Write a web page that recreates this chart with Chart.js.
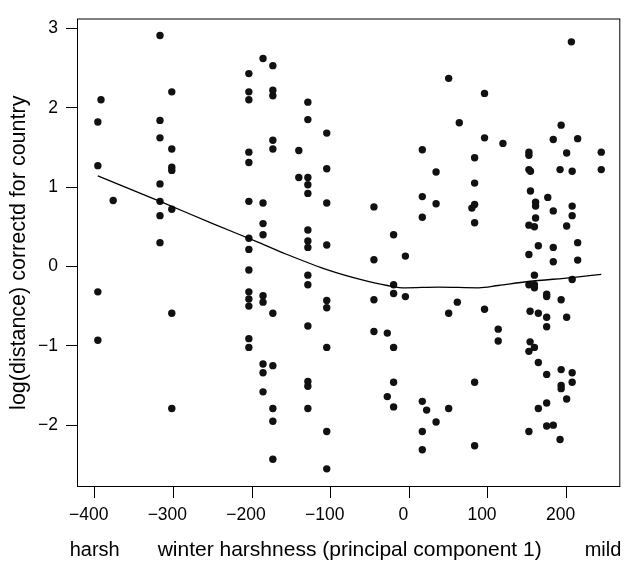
<!DOCTYPE html>
<html><head><meta charset="utf-8">
<script src="https://cdn.jsdelivr.net/npm/chart.js@4/dist/chart.umd.min.js"></script>
<style>html,body{margin:0;padding:0;background:#fff;}canvas{display:block;}</style>
</head><body>
<canvas id="c" width="624" height="562"></canvas>
<script>
// winter harshness (PC1) for each observation
const winterX = [
  -396,-396,-396,-396, -392, -376.5,
  -317,-317,-317,-317,-317,-317,-317,
  -302,-302,-302,-302,-302,-302,-302,
  -204,-204,-204,-204,-204,-204,-204,-204,-204,-204,-204,-204,-204,-204,
  -186,-186,-186,-186,-186,-186,-186,-186,-186,
  -173.5,-173.5,-173.5,-173.5,-173.5,-173.5,-173.5,-173.5,-173.5,-173.5,
  -140.5,-140.5,
  -129,-129,-129,-129,-129,-129,-129,-129,-129,-129,-129,-129,-129,-129,
  -105,-105,-105,-105,-105,-105,-105,-105,-105,
  -45,-45,-45,-45,
  -28,-28,
  -20,-20,-20,-20,-20,-20,
  -5,-5,
  16.5,16.5,16.5,16.5,16.5,16.5,
  22,
  34,34,34,
  50,50,50,
  61, 63.5, 79.5,
  83,83,83,83,83,83,
  95.6,95.6,95.6,
  113,113,
  119,
  152,152,152,152,152,152,152,152,
  153.5,153.5,
  154,154,
  159,159,159,159,159,
  160.5,160.5,160.5,
  164,164,164,164,
  174.6,174.6,174.6,174.6,174.6,174.6,174.6,
  176,
  183,183,183,183,183,
  191.6,191.6,
  193,193,193,193,193,
  200,200,200,200,
  206,
  207,207,207,207,207,207,
  214,214,214,
  244,244
];
// log(distance) corrected for country, paired with winterX
const logDist = [
  1.82,1.27,-0.32,-0.93, 2.10, 0.83,
  2.91,1.84,1.62,1.04,0.82,0.64,0.30,
  2.20,1.48,1.25,1.21,0.72,-0.59,-1.79,
  2.43,2.20,2.10,1.44,1.31,0.82,0.355,0.215,-0.045,-0.32,-0.41,-0.50,-0.91,-1.02,
  2.62,0.80,0.54,0.40,-0.37,-0.45,-1.23,-1.34,-1.58,
  2.53,2.22,2.15,1.59,1.48,-0.59,-1.25,-1.79,-1.95,-2.43,
  1.46,1.12,
  2.07,1.85,1.12,1.03,0.92,0.46,0.32,0.24,-0.11,-0.23,-0.75,-1.45,-1.51,-1.79,
  1.68,1.23,0.80,0.27,-0.43,-0.52,-1.02,-2.08,-2.55,
  0.75,0.085,-0.42,-0.82,
  -0.84,-1.64,
  0.40,-0.23,-0.34,-1.02,-1.46,-1.77,
  0.13,-0.38,
  1.47,0.88,0.62,-1.70,-2.08,-2.31,
  -1.81,
  1.19,0.79,-1.96,
  2.37,-0.59,-1.79,
  -0.45, 1.81, 0.735,
  1.37,1.05,0.78,0.55,-1.46,-2.26,
  2.18,1.62,-0.54,
  -0.79,-0.94,
  1.55,
  1.44,1.40,1.22,0.52,0.15,-0.23,-1.07,-2.08,
  -0.565,-0.95,
  1.20,0.95,
  0.50,-0.11,-0.23,-0.27,-1.02,
  0.81,0.76,0.61,
  0.26,-0.59,-1.21,-1.79,
  -0.35,-0.38,-0.64,-0.76,-1.36,-1.72,-2.01,
  0.87,
  1.60,0.70,0.24,0.06,-2.00,
  1.22,-2.18,
  1.78,-0.42,-1.30,-1.50,-1.54,
  1.43,0.51,-0.64,-1.67,
  2.83,
  1.20,0.76,0.64,-0.165,-1.34,-1.46,
  1.61,0.30,0.08,
  1.44,1.22
];
// smoothed (lowess) curve
const curveX = [-396, -317, -250, -191, -157, -102, -60, -28, -5, 37, 88, 113, 151, 207, 244];
const curveY = [1.14, 0.82, 0.54, 0.30, 0.157, -0.05, -0.17, -0.24, -0.27, -0.26, -0.27, -0.24, -0.19, -0.14, -0.10];

const xTicks = [-400, -300, -200, -100, 0, 100, 200];
const yTicks = [-2, -1, 0, 1, 2, 3];
const xTitle = 'winter harshness (principal component 1)';
const yTitle = 'log(distance) correctd for country';
const leftNote = 'harsh';
const rightNote = 'mild';

const fmt = v => (v < 0 ? '\u2212' + Math.abs(v) : String(v));
const FONT = '"Liberation Sans", Arial, Helvetica, sans-serif';

const framePlugin = {
  id: 'frame',
  afterDraw(chart) {
    const {ctx, chartArea: a} = chart;
    ctx.save();
    ctx.strokeStyle = '#000';
    ctx.lineWidth = 1;
    ctx.strokeRect(a.left + 0.5, a.top + 0.5, a.right - a.left - 1, a.bottom - a.top - 1);
    ctx.fillStyle = '#000';
    ctx.textBaseline = 'alphabetic';
    ctx.textAlign = 'center';
    const xs = chart.scales.x;
    ctx.font = '21px ' + FONT;
    ctx.fillText(xTitle, (a.left + a.right) / 2 + 1, 556);
    ctx.font = '20px ' + FONT;
    ctx.fillText(leftNote, xs.getPixelForValue(-400), 556);
    ctx.fillText(rightNote, 603, 556);
    ctx.font = '21.5px ' + FONT;
    ctx.translate(25, (a.top + a.bottom) / 2);
    ctx.rotate(-Math.PI / 2);
    ctx.fillText(yTitle, 0, 0);
    ctx.restore();
  }
};

new Chart(document.getElementById('c'), {
  data: {
    datasets: [
      {
        type: 'line',
        data: curveX.map((x, i) => ({x, y: curveY[i]})),
        borderColor: '#000',
        borderWidth: 1.3,
        pointRadius: 0,
        fill: false,
        cubicInterpolationMode: 'monotone'
      },
      {
        type: 'scatter',
        data: winterX.map((x, i) => ({x, y: logDist[i]})),
        backgroundColor: '#111',
        borderWidth: 0,
        pointRadius: 3.7,
        pointHoverRadius: 3.7
      }
    ]
  },
  options: {
    responsive: false,
    devicePixelRatio: 1,
    animation: false,
    layout: {padding: {top: 10, right: 2, left: 0, bottom: 0}},
    plugins: {legend: {display: false}, tooltip: {enabled: false}},
    scales: {
      x: {
        type: 'linear',
        min: -422.5,
        max: 268.2,
        afterFit: s => { s.height = 75; },
        afterBuildTicks: s => { s.ticks = xTicks.map(v => ({value: v})); },
        border: {display: false},
        grid: {drawOnChartArea: false, drawTicks: true, tickLength: 11, color: '#000', lineWidth: 1},
        ticks: {
          color: '#000',
          font: {family: FONT, size: 17.5},
          padding: 7,
          labelOffset: -6,
          maxRotation: 0,
          autoSkip: false,
          callback: v => fmt(v)
        }
      },
      y: {
        type: 'linear',
        min: -2.779,
        max: 3.124,
        afterFit: s => { s.width = 77; },
        afterBuildTicks: s => { s.ticks = yTicks.map(v => ({value: v})); },
        border: {display: false},
        grid: {drawOnChartArea: false, drawTicks: true, tickLength: 11, color: '#000', lineWidth: 1},
        ticks: {
          color: '#000',
          font: {family: FONT, size: 17.5},
          padding: 8,
          autoSkip: false,
          callback: v => fmt(v)
        }
      }
    }
  },
  plugins: [framePlugin]
});
</script>
</body></html>
